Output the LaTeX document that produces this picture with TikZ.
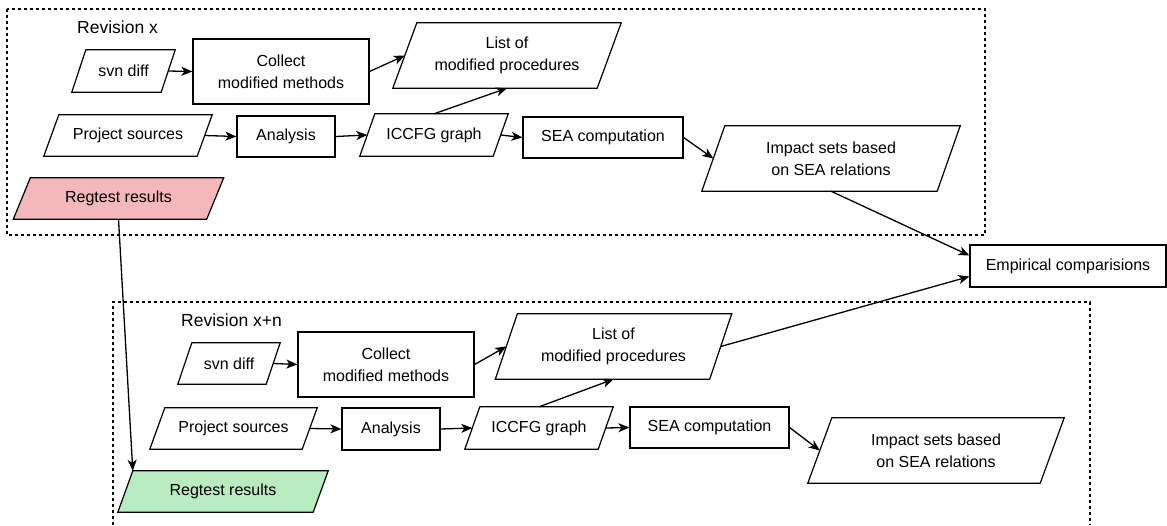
\documentclass[tikz,border=0pt]{standalone}
\usepackage{fontspec}
\setmainfont{Liberation Sans}
\usetikzlibrary{arrows.meta,backgrounds}
\definecolor{regred}{HTML}{F4B8BC}
\definecolor{reggreen}{HTML}{B9EBC0}
\tikzset{
  txt/.style={align=center, inner sep=0pt, font=\fontsize{16}{22}\selectfont},
  box/.style={txt, draw, line width=1.2pt},
  shapeline/.style={draw, line width=1.2pt},
  arr/.style={-{Stealth[length=11pt,width=9pt,inset=3pt]}, line width=1.3pt},
  group/.style={dash pattern=on 3pt off 3pt, line width=1.2pt},
  lbl/.style={anchor=west, inner sep=0pt, font=\fontsize{17.5}{20}\selectfont}
}
% name, center, top width, height, half slant, fill, text
\newcommand{\pnode}[7]{%
  \node[txt, minimum width=#3pt, minimum height=#4pt] (#1) at (#2) {#7};
  \begin{pgfonlayer}{background}
    \draw[shapeline, fill=#6] ([xshift=#5pt]#1.north west) -- ([xshift=#5pt]#1.north east)
      -- ([xshift=-#5pt]#1.south east) -- ([xshift=-#5pt]#1.south west) -- cycle;
  \end{pgfonlayer}
}
\begin{document}
\begin{tikzpicture}[x=1pt,y=-1pt]
\useasboundingbox (0,0) rectangle (1167,525);
% group frames
\draw[group] (7,9) rectangle (985,235);
\draw[group] (113,525) -- (113,302) -- (1090,302) -- (1090,525);
\node[lbl] (rx) at (77,27) {Revision x};
\node[lbl] (rxn) at (181,320) {Revision x+n};

% ---- Revision x ----
\pnode{svn1}{123.5,71}{89}{42}{7}{white}{svn diff}
\node[box, minimum width=176pt, minimum height=65pt] (col1) at (281,71.5) {Collect\\modified methods};
\pnode{list1}{507,55.5}{204}{65}{12}{white}{List of\\modified procedures}
\pnode{proj1}{128,135.5}{153}{41}{7.5}{white}{Project sources}
\node[box, minimum width=98pt, minimum height=41pt] (ana1) at (286,136.5) {Analysis};
\pnode{icc1}{434,135}{133}{42}{7.5}{white}{ICCFG graph}
\node[box, minimum width=160pt, minimum height=41pt] (sea1) at (603,137.5) {SEA computation};
\pnode{imp1}{831,158.5}{235}{65}{11.5}{white}{Impact sets based\\on SEA relations}
\pnode{reg1}{118.5,198.5}{193}{41}{8.5}{regred}{Regtest results}

% ---- Empirical ----
\node[box, minimum width=196pt, minimum height=42pt] (emp) at (1068,266) {Empirical comparisions};

% ---- Revision x+n ----
\pnode{svn2}{229,363.5}{88}{41}{7}{white}{svn diff}
\node[box, minimum width=176pt, minimum height=65pt] (col2) at (386,364.5) {Collect\\modified methods};
\pnode{list2}{613.5,346.5}{214}{65}{11}{white}{List of\\modified procedures}
\pnode{proj2}{233.5,428.5}{152}{41}{7.5}{white}{Project sources}
\node[box, minimum width=98pt, minimum height=42pt] (ana2) at (391,429) {Analysis};
\pnode{icc2}{539,428}{133}{42}{7.5}{white}{ICCFG graph}
\node[box, minimum width=159pt, minimum height=41pt] (sea2) at (709.5,427.5) {SEA computation};
\pnode{imp2}{936,450.5}{232}{65}{12}{white}{Impact sets based\\on SEA relations}
\pnode{reg2}{223,491.5}{195}{41}{7.5}{reggreen}{Regtest results}

% ---- connectors ----
\draw[arr] (svn1.east) -- (col1.west);
\draw[arr] (col1.east) -- (list1.west);
\draw[arr] (proj1.east) -- (ana1.west);
\draw[arr] (ana1.east) -- (icc1.west);
\draw[arr] (icc1.north) -- (list1.south);
\draw[arr] (icc1.east) -- (sea1.west);
\draw[arr] (sea1.east) -- (imp1.west);
\draw[arr] (imp1.south) -- ([yshift=10.5pt]emp.west);

\draw[arr] (svn2.east) -- (col2.west);
\draw[arr] (col2.east) -- (list2.west);
\draw[arr] (proj2.east) -- (ana2.west);
\draw[arr] (ana2.east) -- (icc2.west);
\draw[arr] (icc2.north) -- (list2.south);
\draw[arr] (icc2.east) -- (sea2.west);
\draw[arr] (sea2.east) -- (imp2.west);
\draw[arr] (list2.east) -- ([yshift=-10.5pt]emp.west);

\draw[arr] (reg1.south) -- ([xshift=7.5pt]reg2.north west);
\end{tikzpicture}
\end{document}
